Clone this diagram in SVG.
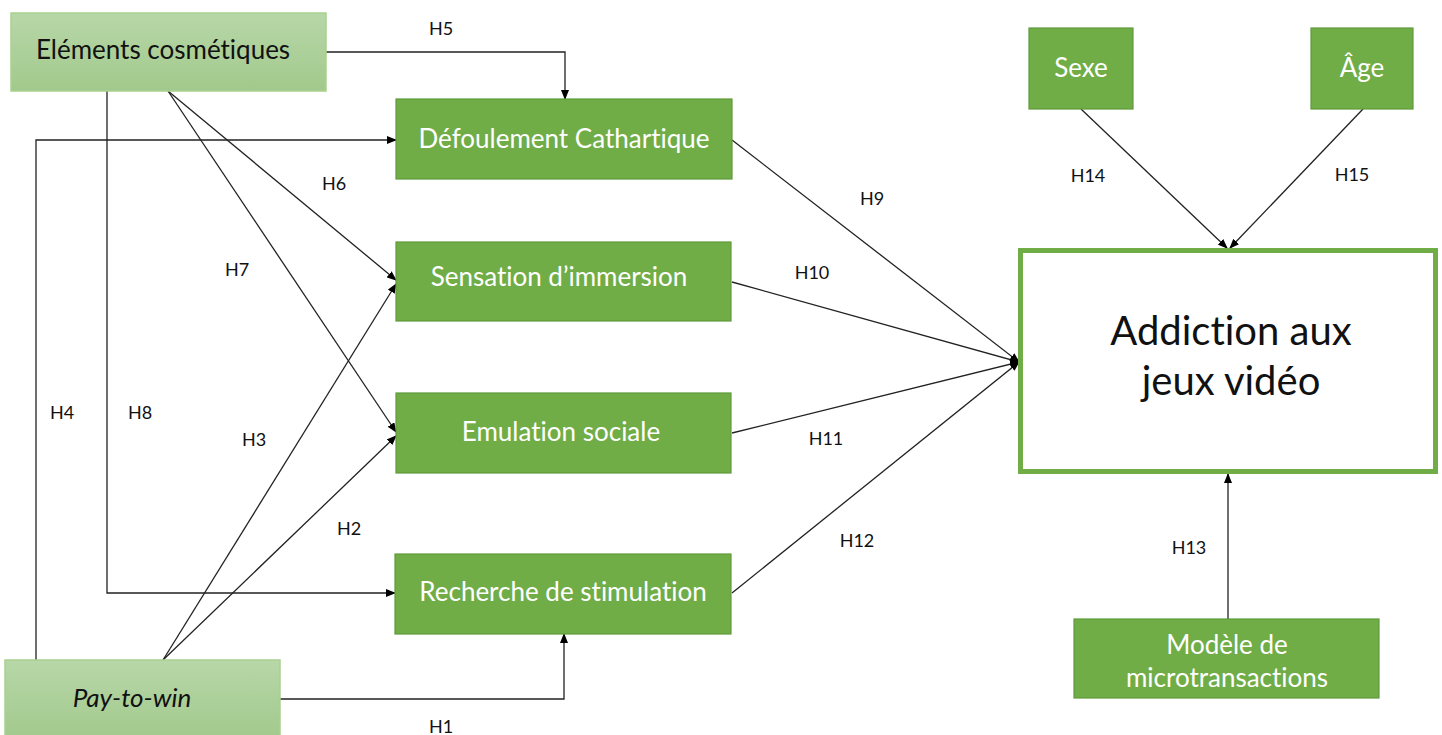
<svg xmlns="http://www.w3.org/2000/svg" width="1442" height="735" viewBox="0 0 1442 735">
<defs>
<linearGradient id="lg" x1="0" y1="0" x2="0" y2="1">
<stop offset="0" stop-color="#b7d7a8"/>
<stop offset="1" stop-color="#a2c98c"/>
</linearGradient>
<marker id="ah" markerUnits="userSpaceOnUse" markerWidth="10" markerHeight="8" refX="9" refY="4" orient="auto">
<path d="M0,0 L10,4 L0,8 Z" fill="#000"/>
</marker>
<style>
text{font-family:Lato,"Open Sans",sans-serif;font-variant-ligatures:none;text-anchor:middle}
.light{fill:url(#lg);stroke:#a9d18e;stroke-width:1.5}
.dark{fill:#70ad47;stroke:#5e9a3a;stroke-width:1.2}
.tb{font-size:26px;fill:#111}
.tw{font-size:26px;fill:#fff}
.lbl{font-size:18px;fill:#111}
.big{font-size:40px;fill:#111}
.c{fill:none;stroke:#222;stroke-width:1.3;marker-end:url(#ah)}
</style>
</defs>
<rect width="1442" height="735" fill="#fff"/>

<g id="connectors">
<path class="c" d="M326,52 H565 V99"/>
<path class="c" d="M107,91 V593 H395"/>
<path class="c" d="M36,660 V140 H396"/>
<path class="c" d="M168,91 L396,280"/>
<path class="c" d="M168,91 L396,432"/>
<path class="c" d="M163,660 L396,284"/>
<path class="c" d="M163,660 L396,436"/>
<path class="c" d="M280,699 H564 V634"/>
<path class="c" d="M732,140 L1019,362"/>
<path class="c" d="M732,282 L1019,362"/>
<path class="c" d="M732,433 L1019,362"/>
<path class="c" d="M732,593 L1019,362"/>
<path class="c" d="M1081,109 L1227,248"/>
<path class="c" d="M1363,109 L1230,248"/>
<path class="c" d="M1228,619 V474"/>
<g class="labels">
<text class="lbl" x="441" y="35">H5</text>
<text class="lbl" x="334" y="190">H6</text>
<text class="lbl" x="237" y="276">H7</text>
<text class="lbl" x="62" y="419">H4</text>
<text class="lbl" x="140" y="419">H8</text>
<text class="lbl" x="254" y="446">H3</text>
<text class="lbl" x="349" y="535">H2</text>
<text class="lbl" x="441" y="733">H1</text>
<text class="lbl" x="872" y="205">H9</text>
<text class="lbl" x="812" y="279">H10</text>
<text class="lbl" x="826" y="445">H11</text>
<text class="lbl" x="857" y="547">H12</text>
<text class="lbl" x="1088" y="182">H14</text>
<text class="lbl" x="1352" y="181">H15</text>
<text class="lbl" x="1189" y="554">H13</text>
</g>
</g>

<g id="elements">
<rect class="light" x="11" y="13" width="315" height="78"/>
<text class="tb" x="163" y="59">Eléments cosmétiques</text>
</g>
<g id="paytowin">
<rect class="light" x="5" y="660" width="275" height="80"/>
<text class="tb" x="132" y="707" font-style="italic" font-size="24">Pay-to-win</text>
</g>
<g id="defoulement">
<rect class="dark" x="396" y="99" width="336" height="80"/>
<text class="tw" x="564" y="148">Défoulement Cathartique</text>
</g>
<g id="sensation">
<rect class="dark" x="396" y="242" width="335" height="79"/>
<text class="tw" x="559" y="286">Sensation d’immersion</text>
</g>
<g id="emulation">
<rect class="dark" x="396" y="393" width="335" height="80"/>
<text class="tw" x="561" y="441">Emulation sociale</text>
</g>
<g id="recherche">
<rect class="dark" x="395" y="554" width="336" height="80"/>
<text class="tw" x="563" y="601">Recherche de stimulation</text>
</g>
<g id="sexe">
<rect class="dark" x="1029" y="28" width="104" height="81"/>
<text class="tw" x="1081" y="77">Sexe</text>
</g>
<g id="age">
<rect class="dark" x="1311" y="28" width="102" height="81"/>
<text class="tw" x="1362" y="77">Âge</text>
</g>
<g id="addiction">
<rect x="1020.5" y="250.5" width="415" height="221" fill="#fff" stroke="#70ad47" stroke-width="5"/>
<text class="big" x="1231" y="345">Addiction aux</text>
<text class="big" x="1231" y="395">jeux vidéo</text>
</g>
<g id="modele">
<rect class="dark" x="1074" y="619" width="305" height="79"/>
<text class="tw" x="1227" y="654">Modèle de</text>
<text class="tw" x="1227" y="687">microtransactions</text>
</g>
</svg>
